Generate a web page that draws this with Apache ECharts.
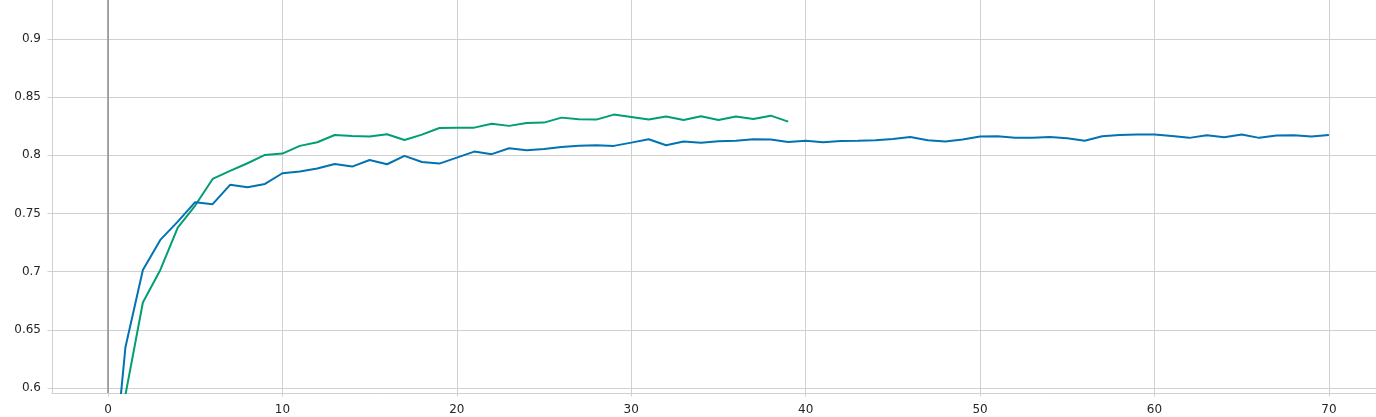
<!DOCTYPE html>
<html>
<head>
<meta charset="utf-8">
<script src="https://cdn.jsdelivr.net/npm/echarts@6/dist/echarts.min.js"></script>
<style>
html,body{margin:0;padding:0;background:#fff;}
#chart{width:1376px;height:417px;}
</style>
</head>
<body>
<div id="chart"></div>
<script>
var blueValues = [0.478, 0.635, 0.7015, 0.7273, 0.743, 0.7597, 0.758, 0.7746, 0.7726, 0.7754,
  0.7846, 0.786, 0.7886, 0.7926, 0.7903, 0.796, 0.7923, 0.7995, 0.7943, 0.7929,
  0.798, 0.8032, 0.801, 0.8061, 0.8044, 0.8055, 0.8072, 0.8083, 0.8087, 0.8081,
  0.8109, 0.8138, 0.8087, 0.8118, 0.8109, 0.8121, 0.8126, 0.8138, 0.8135, 0.8115,
  0.8126, 0.8113, 0.8124, 0.8126, 0.813, 0.8141, 0.8158, 0.813, 0.8118, 0.8135,
  0.8161, 0.8164, 0.8152, 0.8152, 0.8158, 0.8147, 0.8126, 0.8164, 0.8175, 0.8178,
  0.8178, 0.8167, 0.815, 0.8173, 0.8155, 0.8178, 0.815, 0.817, 0.8173, 0.8161, 0.8175];
var greenValues = [0.45, 0.594, 0.6735, 0.7015, 0.7379, 0.7568, 0.7797, 0.7866, 0.7932, 0.8003,
  0.8015, 0.8081, 0.8112, 0.8175, 0.8167, 0.8161, 0.8181, 0.8132, 0.8178, 0.8235,
  0.8238, 0.8238, 0.8272, 0.8253, 0.8278, 0.8281, 0.8324, 0.831, 0.8307, 0.835,
  0.833, 0.8307, 0.8333, 0.8304, 0.8336, 0.8304, 0.8333, 0.8313, 0.8341, 0.829];
var xTicks = [0, 10, 20, 30, 40, 50, 60, 70];
var yTicks = [0.6, 0.65, 0.7, 0.75, 0.8, 0.85, 0.9];

function pairs(vals){ return vals.map(function(v,i){ return [i, v]; }); }

var chart = echarts.init(document.getElementById('chart'), null, {renderer:'canvas'});
var gridColor = '#d0d0d0';
var textStyle = {color:'#262626', fontSize:12, fontFamily:'DejaVu Sans'};
chart.setOption({
  animation:false,
  grid:{left:52, top:0, right:0, bottom:24, containLabel:false},
  xAxis:{
    type:'value', min:-3.21, max:72.7,
    axisLine:{show:true, onZero:false, lineStyle:{color:gridColor, width:1}},
    axisTick:{show:true, customValues:xTicks, length:3.5, lineStyle:{color:gridColor}},
    axisLabel:Object.assign({customValues:xTicks, margin:11}, textStyle),
    splitLine:{show:true, lineStyle:{color:gridColor, width:1}}
  },
  yAxis:{
    type:'value', min:0.5957, max:0.9335,
    axisLine:{show:true, onZero:false, lineStyle:{color:gridColor, width:1}},
    axisTick:{show:true, customValues:yTicks, length:4.5, lineStyle:{color:gridColor}},
    axisLabel:Object.assign({customValues:yTicks, margin:11, formatter:function(v){return String(+v.toFixed(2));}}, textStyle),
    splitLine:{show:true, lineStyle:{color:gridColor, width:1}}
  },
  series:[
    {type:'line', data:pairs(greenValues), showSymbol:false, clip:true,
     lineStyle:{color:'#029e73', width:2}, itemStyle:{color:'#029e73'}, z:3,
     markLine:{silent:true, symbol:['none','none'], label:{show:false},
       lineStyle:{color:'#8c8c8c', width:1.5, type:'solid'}, data:[{xAxis:0}]}},
    {type:'line', data:pairs(blueValues), showSymbol:false, clip:true,
     lineStyle:{color:'#0173b2', width:2}, itemStyle:{color:'#0173b2'}, z:4}
  ]
});
</script>
</body>
</html>
